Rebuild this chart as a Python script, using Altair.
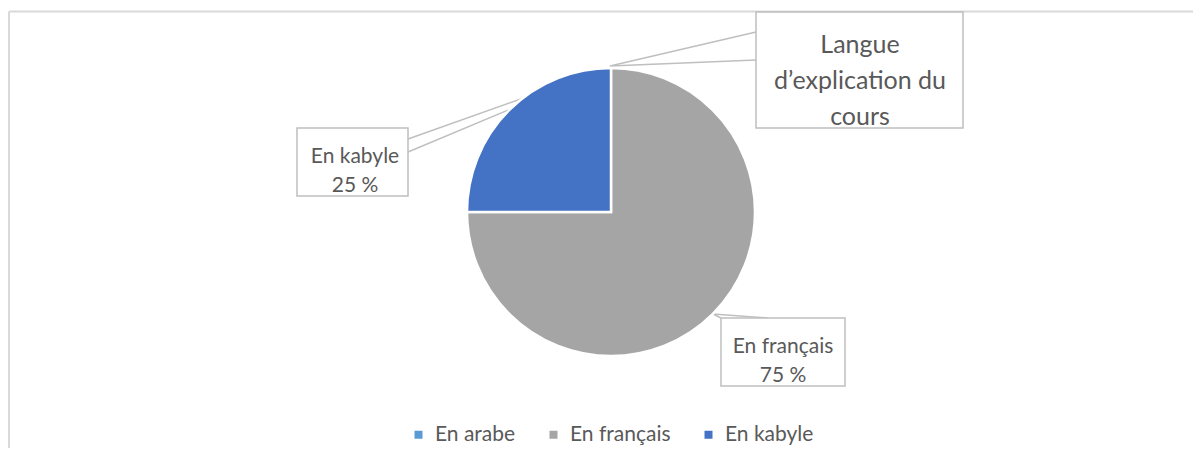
import altair as alt
import pandas as pd

categories = ["En arabe", "En français", "En kabyle"]
values = [0, 75, 25]
colors = ["#5B9BD5", "#A5A5A5", "#4472C4"]
title_lines = ["Langue", "d’explication du", "cours"]

df = pd.DataFrame({"cat": categories, "val": values, "idx": list(range(len(categories)))})
one = pd.DataFrame({"a": [0]})

W, H = 1185, 440
FONT = "Lato"
TXT = "#595959"
LINE = "#BFBFBF"
CX, CY, R = 603, 204, 144

pie = alt.Chart(df).mark_arc(outerRadius=R, stroke="white", strokeWidth=2.5).encode(
    theta=alt.Theta("val:Q", stack=True),
    color=alt.Color(
        "cat:N",
        scale=alt.Scale(domain=categories, range=colors),
        legend=alt.Legend(
            title=None, orient="none", direction="horizontal",
            legendX=400, legendY=416, symbolType="square", symbolSize=64,
            symbolStrokeWidth=0, labelFont=FONT, labelFontSize=21,
            labelColor=TXT, columnPadding=27, labelOffset=6, padding=0,
        ),
    ),
    order=alt.Order("idx:Q"),
    x=alt.value(CX),
    y=alt.value(CY),
)

def rule(x1, y1, x2, y2, color=LINE, w=1.5):
    return alt.Chart(one).mark_rule(stroke=color, strokeWidth=w).encode(
        x=alt.value(x1), y=alt.value(y1), x2=alt.value(x2), y2=alt.value(y2)
    )

def box(x1, y1, x2, y2):
    return alt.Chart(one).mark_rect(fill="white", stroke=LINE, strokeWidth=1.5).encode(
        x=alt.value(x1), y=alt.value(y1), x2=alt.value(x2), y2=alt.value(y2)
    )

def text(lines, x, y, size, lh):
    return alt.Chart(one).mark_text(
        font=FONT, fontSize=size, color=TXT, align="center", baseline="alphabetic", lineHeight=lh
    ).encode(x=alt.value(x), y=alt.value(y), text=alt.value(lines))

border = rule(1, 3.5, 1, H + 20, "#D9D9D9", 2) + rule(1, 3.5, W + 20, 3.5, "#D9D9D9", 2)

# callout wedges
wedges = (
    rule(602, 58, 748, 24) + rule(602, 58, 748, 52)
    + rule(603, 59, 400, 131) + rule(603, 59, 400, 144)
    + rule(705, 306, 713, 310) + rule(705, 306, 760, 310)
)

boxes = box(748, 4, 955, 120) + box(289, 120, 400, 188) + box(713, 310, 837, 378)

kab = f"{values[2]} %"
fra = f"{values[1]} %"
texts = (
    text(title_lines, 852, 45, 25, 36)
    + text([categories[2], kab], 347, 155, 21, 29)
    + text([categories[1], fra], 775, 345, 21, 29)
)

chart = alt.layer(border, wedges, pie, boxes, texts).properties(
    width=W, height=H, padding=0, autosize=alt.AutoSizeParams(type="none")
).configure_view(stroke=None)

chart.save("out.html", embed_options={"renderer": "svg", "actions": False})
